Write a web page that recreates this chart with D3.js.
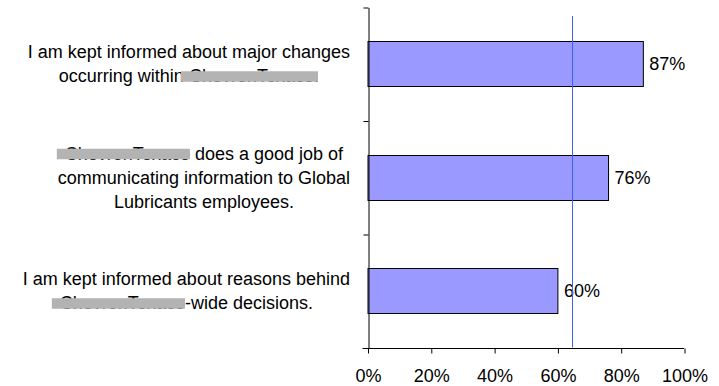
<!DOCTYPE html>
<html>
<head>
<meta charset="utf-8">
<script src="https://cdn.jsdelivr.net/npm/d3@7"></script>
<style>
  html, body { margin: 0; padding: 0; background: #fff; }
  svg { display: block; }
  text { font-family: "Liberation Sans", Arial, sans-serif; fill: #000; }
</style>
</head>
<body>
<svg id="chart" width="719" height="386"></svg>
<script>
// Survey statements, one line per array entry
const categories = [
  ["I am kept informed about major changes", "occurring within ChevronTexaco."],
  ["ChevronTexaco does a good job of", "communicating information to Global", "Lubricants employees."],
  ["I am kept informed about reasons behind", "ChevronTexaco-wide decisions."]
];
// Share of favourable answers per statement
const values = [0.87, 0.76, 0.60];
// Benchmark drawn as a vertical line
const benchmark = 0.645;
// Axis tick values
const xTicks = [0, 0.2, 0.4, 0.6, 0.8, 1.0];
// Name hidden behind a grey bar in the labels
const redacted = "ChevronTexaco";

const svg = d3.select("#chart");
const fontSize = 18;
const lineHeight = 24;

const x = d3.scaleLinear().domain([0, 1]).range([367.5, 684]);
const y = d3.scaleBand().domain(d3.range(categories.length))
  .range([7, 347.5]).paddingInner(0.6).paddingOuter(0.3);
const yEdge = d3.scaleLinear().domain([0, categories.length]).range([7, 347.5]);

// Bars
svg.append("g").selectAll("rect").data(values).join("rect")
  .attr("x", x(0) + 0.5)
  .attr("y", (d, i) => Math.round(y(i)) + 0.5)
  .attr("width", d => x(d) - x(0))
  .attr("height", Math.round(y.bandwidth()))
  .attr("fill", "#9999ff")
  .attr("stroke", "#000")
  .attr("stroke-width", 1);

// Value labels
svg.append("g").selectAll("text").data(values).join("text")
  .attr("x", d => x(d) + 6.5)
  .attr("y", (d, i) => y(i) + y.bandwidth() / 2 + 6.4)
  .attr("font-size", fontSize)
  .text(d => d3.format(".0%")(d));

// Y axis with ticks on the category boundaries
svg.append("g")
  .attr("transform", `translate(${Math.round(x(0)) + 0.5},0.5)`)
  .call(d3.axisLeft(yEdge).tickValues(d3.range(categories.length + 1))
    .tickSizeInner(5).tickSizeOuter(0).tickFormat(""))
  .call(g => g.selectAll("line, path").attr("stroke", "#000"));

// X axis
const xAxis = svg.append("g")
  .attr("transform", `translate(0.5,${Math.round(yEdge(categories.length)) + 0.5})`)
  .call(d3.axisBottom(x).tickValues(xTicks).tickSizeInner(5).tickSizeOuter(0)
    .tickPadding(16).tickFormat(d3.format(".0%")));
xAxis.selectAll("line, path").attr("stroke", "#000");
xAxis.selectAll("text").attr("font-size", fontSize)
  .attr("font-family", "'Liberation Sans', Arial, sans-serif");
xAxis.select(".domain").attr("d", `M${x(0) - 5.5},0H${x(1) - 0.5}`);

// Benchmark line
svg.append("line")
  .attr("x1", Math.round(x(benchmark)) + 0.5).attr("x2", Math.round(x(benchmark)) + 0.5)
  .attr("y1", 16).attr("y2", yEdge(categories.length))
  .attr("stroke", "#3a62f0").attr("stroke-width", 1);

// Category labels: lines centred in a block whose right edge sits left of the axis
const labelRight = 350;
const labels = svg.append("g");
categories.forEach((lines, i) => {
  const cy = y(i) + y.bandwidth() / 2 + 6.5;
  const top = cy - (lines.length - 1) * lineHeight / 2;
  const g = labels.append("g");
  const texts = lines.map((line, j) => {
    const t = g.append("text")
      .attr("font-size", fontSize)
      .attr("text-anchor", "middle")
      .attr("y", top + j * lineHeight);
    const parts = line.split(redacted);
    parts.forEach((p, k) => {
      if (k > 0) t.append("tspan").attr("class", "hidden-name").text(redacted);
      if (p) t.append("tspan").attr("class", "after").text(p);
    });
    return t;
  });
  const widths = texts.map(t => t.node().getComputedTextLength());
  const cx = labelRight - d3.max(widths) / 2;
  texts.forEach(t => t.attr("x", cx));
  // Grey bar over the company name (and a sentence-ending full stop right after it)
  texts.forEach(t => {
    t.selectAll(".hidden-name").each(function () {
      const b = this.getBBox();
      const base = +t.attr("y");
      const next = this.nextSibling;
      const extra = next && next.textContent === "." ? 4 : 0;
      g.append("rect")
        .attr("x", b.x - 8).attr("y", base - 11)
        .attr("width", b.width + 8 + extra).attr("height", 10.5)
        .attr("fill", "#b3b3b3");
    });
  });
});
</script>
</body>
</html>
